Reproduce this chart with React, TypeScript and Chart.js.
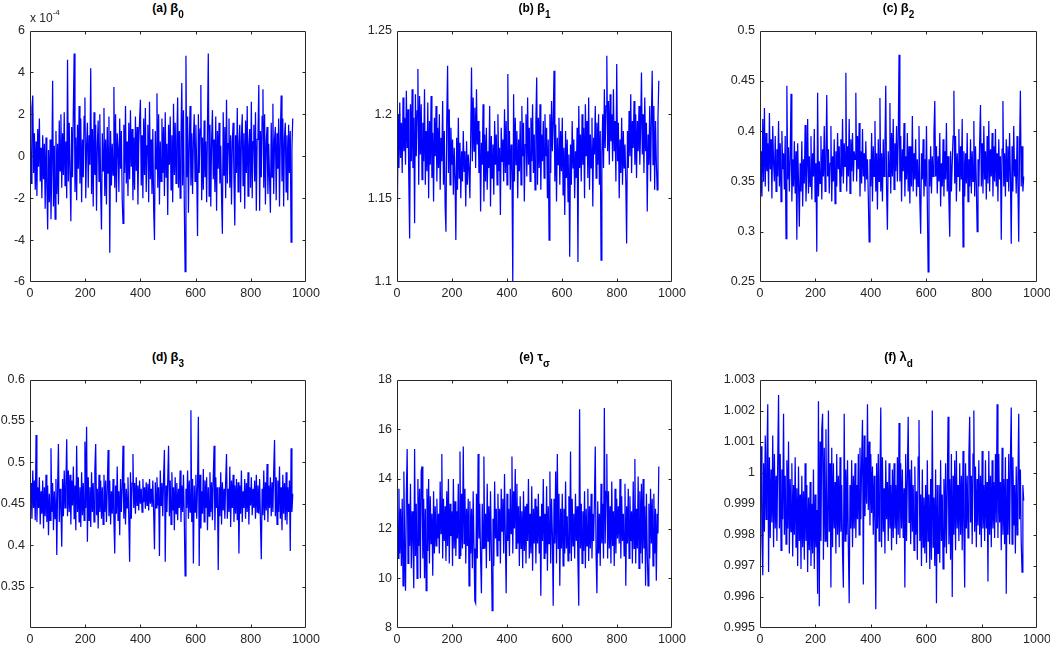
import React, { useEffect, useRef } from 'react';
import { Chart, registerables } from 'chart.js';

Chart.register(...registerables);

// Iteration spacing of the plotted (thinned) MCMC draws
const THIN = 3;
const X_TICKS = { min: 0, max: 1000, step: 200 };

// (a) beta_0, in units of 1e-4
const beta0 = [
  1.5, -1.3, 2.3, 2.9, -0.8, 1.1, -1.6, 0.7, -1.9, 1.3,
  -0.5, 1.8, -1.2, 0.4, -2.0, 1.0, -1.1, 0.6, -2.5, 0.9,
  -1.4, -3.5, 0.3, -2.2, 0.8, -3.0, -0.6, 3.6, -2.4, 0.5,
  -3.0, 1.2, -1.8, 0.6, -2.3, 1.7, -0.7, 2.0, -1.5, 1.1,
  -0.9, 2.1, -1.4, 0.7, -2.0, 4.6, -1.2, 1.6, -0.8, -3.1,
  1.4, -1.0, 2.2, 4.9, -1.7, 0.9, -2.1, 1.5, -0.6, 2.4,
  -1.3, 1.8, -2.2, 0.8, -1.0, 1.9, 2.8, -2.0, 0.5, 1.6,
  -1.5, 1.0, -0.4, 4.2, -1.8, 1.3, -2.4, 2.1, -0.9, 1.5,
  -2.6, 0.6, 1.7, -1.2, 2.0, -1.6, -3.5, 1.1, -0.7, 2.3,
  -1.9, 0.8, -2.3, 1.4, -0.8, 1.9, -4.6, 1.2, -1.4, 0.6,
  -0.9, 3.3, -1.5, 2.0, -2.2, 1.1, 0.4, -1.7, 1.8, -0.6,
  1.2, -2.0, -3.2, 1.5, -0.8, 2.4, -1.3, 0.7, -1.9, 1.6,
  -1.1, 2.2, -0.5, 1.3, -2.1, 0.9, -1.6, 1.9, -0.7, 1.4,
  -2.3, 0.6, 1.7, 2.7, -1.4, 1.0, -2.0, 1.8, -0.9, 2.3,
  -1.7, 0.5, 1.5, -2.2, 2.6, -1.1, 0.8, -1.8, 1.3, -2.5,
  -4.0, 1.2, -0.6, 3.0, -1.5, 2.0, -2.3, 0.7, -1.2, 1.8,
  -0.8, 1.4, -1.9, 2.1, -1.0, 0.6, -2.8, 1.5, -0.4, 1.9,
  -1.6, 1.0, -2.2, 2.5, -0.9, 1.6, -1.3, 0.8, 2.8, -1.5,
  1.2, -2.0, 0.9, 3.5, -1.4, 2.2, -2.2, -5.5, 4.8, -1.0,
  1.9, -2.7, 0.6, 2.4, -1.4, 1.1, -1.8, 0.8, 2.0, -1.2,
  1.5, -0.7, -3.8, 2.0, -0.8, 1.3, 3.4, -2.1, 0.9, -1.6,
  1.7, -1.0, 0.7, -2.2, 1.4, 4.9, -1.9, 1.5, -2.4, 0.8,
  2.2, -1.1, 0.8, -1.7, 1.9, -2.6, 1.2, -0.6, 1.6, -1.3,
  0.5, -2.0, -3.7, 2.1, -0.9, 1.4, -2.0, 2.7, -1.3, 0.6,
  1.8, -1.5, 1.0, -2.3, 0.7, 1.6, -1.1, -3.3, 1.0, -0.8,
  2.3, -1.7, 0.6, 1.5, -2.2, 0.9, 2.0, -1.4, 1.1, -2.5,
  1.7, -0.8, 2.4, -1.9, 0.5, 1.3, -1.5, 2.6, -2.0, 0.7,
  1.5, -1.2, 2.1, -2.6, 0.8, 1.0, 3.4, -2.6, 1.2, -1.0,
  1.9, 3.2, -1.5, 2.0, -2.3, 0.7, 1.4, -1.8, 0.6, -1.1,
  -2.7, 1.6, -1.0, 2.5, -1.8, 0.8, 1.4, -2.1, 1.1, -0.6,
  1.8, -2.4, 0.9, 2.9, -1.2, 1.8, -2.4, 0.9, 1.6, -1.7,
  1.0, -2.1, 1.5, -0.8, 1.2, -4.1, 0.4, 1.8,
];

// (b) beta_1
const beta1 = [
  1.132, 1.200, 1.168, 1.207, 1.174, 1.195, 1.165, 1.210, 1.178, 1.198,
  1.170, 1.214, 1.180, 1.203, 1.160, 1.126, 1.206, 1.172, 1.215, 1.168,
  1.198, 1.135, 1.212, 1.175, 1.202, 1.227, 1.158, 1.211, 1.176, 1.206,
  1.161, 1.195, 1.172, 1.215, 1.158, 1.190, 1.166, 1.207, 1.150, 1.196,
  1.170, 1.211, 1.162, 1.189, 1.148, 1.198, 1.175, 1.205, 1.160, 1.192,
  1.168, 1.200, 1.155, 1.186, 1.172, 1.208, 1.158, 1.190, 1.145, 1.130,
  1.198, 1.229, 1.165, 1.203, 1.158, 1.192, 1.170, 1.185, 1.152, 1.180,
  1.163, 1.125, 1.186, 1.155, 1.198, 1.162, 1.183, 1.150, 1.178, 1.160,
  1.190, 1.166, 1.178, 1.145, 1.184, 1.158, 1.176, 1.168, 1.150, 1.186,
  1.228, 1.172, 1.210, 1.178, 1.204, 1.168, 1.215, 1.182, 1.196, 1.165,
  1.190, 1.142, 1.183, 1.170, 1.206, 1.148, 1.188, 1.160, 1.192, 1.155,
  1.178, 1.168, 1.205, 1.145, 1.187, 1.162, 1.182, 1.152, 1.196, 1.170,
  1.188, 1.158, 1.200, 1.166, 1.180, 1.140, 1.192, 1.172, 1.185, 1.160,
  1.203, 1.165, 1.196, 1.158, 1.224, 1.170, 1.190, 1.155, 1.182, 1.168,
  1.100, 1.212, 1.160, 1.198, 1.170, 1.190, 1.150, 1.185, 1.166, 1.196,
  1.158, 1.205, 1.175, 1.195, 1.148, 1.182, 1.200, 1.163, 1.210, 1.170,
  1.192, 1.160, 1.198, 1.172, 1.206, 1.165, 1.188, 1.155, 1.196, 1.222,
  1.158, 1.198, 1.168, 1.206, 1.155, 1.188, 1.172, 1.196, 1.162, 1.200,
  1.175, 1.192, 1.150, 1.185, 1.125, 1.200, 1.165, 1.208, 1.178, 1.196,
  1.226, 1.160, 1.194, 1.148, 1.186, 1.170, 1.198, 1.158, 1.190, 1.166,
  1.198, 1.152, 1.180, 1.140, 1.190, 1.162, 1.185, 1.148, 1.176, 1.115,
  1.182, 1.158, 1.196, 1.168, 1.185, 1.150, 1.178, 1.162, 1.192, 1.112,
  1.205, 1.168, 1.188, 1.160, 1.200, 1.170, 1.192, 1.150, 1.206, 1.175,
  1.196, 1.162, 1.210, 1.155, 1.188, 1.168, 1.198, 1.145, 1.186, 1.176,
  1.205, 1.162, 1.195, 1.170, 1.200, 1.158, 1.190, 1.113, 1.176, 1.200,
  1.168, 1.215, 1.180, 1.205, 1.235, 1.178, 1.208, 1.170, 1.212, 1.184,
  1.200, 1.172, 1.215, 1.178, 1.196, 1.160, 1.230, 1.172, 1.195, 1.150,
  1.185, 1.165, 1.198, 1.158, 1.190, 1.168, 1.182, 1.160, 1.123, 1.190,
  1.168, 1.202, 1.175, 1.212, 1.165, 1.196, 1.180, 1.208, 1.170, 1.200,
  1.162, 1.196, 1.178, 1.205, 1.170, 1.192, 1.225, 1.176, 1.200, 1.165,
  1.210, 1.178, 1.195, 1.142, 1.188, 1.170, 1.205, 1.160, 1.198, 1.226,
  1.170, 1.205, 1.155, 1.196, 1.172, 1.155, 1.198, 1.220,
];

// (c) beta_2
const beta2 = [
  0.320, 0.380, 0.335, 0.412, 0.350, 0.423, 0.345, 0.398, 0.360, 0.388,
  0.340, 0.418, 0.362, 0.392, 0.333, 0.405, 0.368, 0.350, 0.395, 0.340,
  0.382, 0.355, 0.410, 0.345, 0.388, 0.330, 0.400, 0.362, 0.378, 0.342,
  0.395, 0.293, 0.445, 0.352, 0.384, 0.340, 0.372, 0.437, 0.330, 0.372,
  0.345, 0.390, 0.338, 0.380, 0.292, 0.388, 0.350, 0.305, 0.368, 0.340,
  0.390, 0.325, 0.372, 0.348, 0.406, 0.330, 0.362, 0.412, 0.338, 0.375,
  0.345, 0.395, 0.332, 0.378, 0.355, 0.402, 0.330, 0.368, 0.280, 0.438,
  0.335, 0.370, 0.348, 0.395, 0.332, 0.382, 0.355, 0.405, 0.340, 0.372,
  0.436, 0.355, 0.382, 0.338, 0.368, 0.405, 0.330, 0.375, 0.350, 0.392,
  0.328, 0.380, 0.345, 0.398, 0.362, 0.385, 0.340, 0.392, 0.355, 0.412,
  0.348, 0.388, 0.365, 0.458, 0.340, 0.385, 0.355, 0.412, 0.338, 0.392,
  0.360, 0.398, 0.350, 0.380, 0.372, 0.438, 0.350, 0.395, 0.362, 0.408,
  0.335, 0.380, 0.348, 0.402, 0.355, 0.378, 0.340, 0.390, 0.352, 0.372,
  0.335, 0.290, 0.372, 0.345, 0.398, 0.330, 0.385, 0.355, 0.410, 0.340,
  0.378, 0.322, 0.392, 0.350, 0.433, 0.340, 0.378, 0.330, 0.392, 0.355,
  0.385, 0.445, 0.342, 0.302, 0.380, 0.355, 0.428, 0.338, 0.398, 0.355,
  0.412, 0.342, 0.388, 0.360, 0.405, 0.350, 0.392, 0.476, 0.350, 0.395,
  0.330, 0.382, 0.360, 0.408, 0.335, 0.375, 0.352, 0.398, 0.340, 0.385,
  0.328, 0.385, 0.345, 0.415, 0.340, 0.378, 0.352, 0.392, 0.335, 0.372,
  0.345, 0.405, 0.330, 0.298, 0.378, 0.352, 0.392, 0.335, 0.372, 0.345,
  0.405, 0.330, 0.260, 0.372, 0.345, 0.385, 0.338, 0.375, 0.355, 0.398,
  0.430, 0.355, 0.385, 0.338, 0.375, 0.350, 0.398, 0.325, 0.368, 0.345,
  0.392, 0.335, 0.380, 0.352, 0.408, 0.340, 0.375, 0.330, 0.295, 0.380,
  0.340, 0.368, 0.395, 0.440, 0.348, 0.395, 0.330, 0.378, 0.355, 0.402,
  0.340, 0.385, 0.352, 0.412, 0.285, 0.380, 0.335, 0.378, 0.348, 0.398,
  0.330, 0.372, 0.345, 0.392, 0.338, 0.380, 0.350, 0.410, 0.335, 0.385,
  0.348, 0.300, 0.372, 0.345, 0.390, 0.426, 0.345, 0.388, 0.338, 0.405,
  0.352, 0.380, 0.332, 0.395, 0.348, 0.410, 0.340, 0.382, 0.355, 0.398,
  0.335, 0.385, 0.350, 0.402, 0.345, 0.378, 0.330, 0.392, 0.352, 0.375,
  0.292, 0.382, 0.430, 0.345, 0.378, 0.335, 0.392, 0.350, 0.385, 0.340,
  0.398, 0.355, 0.288, 0.385, 0.340, 0.405, 0.355, 0.372, 0.338, 0.395,
  0.348, 0.290, 0.382, 0.440, 0.345, 0.385, 0.340, 0.355,
];

// (d) beta_3
const beta3 = [
  0.440, 0.475, 0.432, 0.490, 0.445, 0.478, 0.430, 0.533, 0.428, 0.470,
  0.445, 0.482, 0.425, 0.465, 0.438, 0.478, 0.420, 0.470, 0.435, 0.485,
  0.428, 0.472, 0.412, 0.462, 0.430, 0.517, 0.440, 0.475, 0.418, 0.465,
  0.432, 0.480, 0.388, 0.470, 0.522, 0.428, 0.468, 0.445, 0.398, 0.480,
  0.435, 0.490, 0.445, 0.472, 0.528, 0.435, 0.490, 0.440, 0.485, 0.425,
  0.478, 0.448, 0.495, 0.432, 0.472, 0.418, 0.520, 0.440, 0.482, 0.428,
  0.470, 0.422, 0.488, 0.436, 0.475, 0.430, 0.525, 0.445, 0.543, 0.404,
  0.482, 0.430, 0.470, 0.422, 0.488, 0.440, 0.475, 0.428, 0.492, 0.522,
  0.436, 0.468, 0.420, 0.485, 0.440, 0.478, 0.432, 0.470, 0.425, 0.485,
  0.440, 0.478, 0.428, 0.468, 0.515, 0.435, 0.478, 0.425, 0.465, 0.438,
  0.480, 0.430, 0.390, 0.472, 0.438, 0.495, 0.430, 0.465, 0.412, 0.480,
  0.440, 0.470, 0.520, 0.432, 0.475, 0.425, 0.468, 0.445, 0.482, 0.430,
  0.380, 0.488, 0.432, 0.475, 0.510, 0.445, 0.475, 0.438, 0.482, 0.448,
  0.472, 0.442, 0.478, 0.450, 0.468, 0.440, 0.480, 0.452, 0.470, 0.444,
  0.476, 0.448, 0.474, 0.442, 0.480, 0.450, 0.468, 0.446, 0.478, 0.440,
  0.395, 0.476, 0.445, 0.482, 0.448, 0.470, 0.387, 0.490, 0.448, 0.475,
  0.435, 0.482, 0.515, 0.380, 0.472, 0.440, 0.478, 0.520, 0.435, 0.478,
  0.425, 0.488, 0.442, 0.470, 0.418, 0.482, 0.438, 0.475, 0.430, 0.468,
  0.445, 0.490, 0.428, 0.472, 0.440, 0.485, 0.432, 0.363, 0.468, 0.445,
  0.490, 0.432, 0.478, 0.440, 0.563, 0.428, 0.480, 0.378, 0.472, 0.440,
  0.485, 0.432, 0.472, 0.555, 0.375, 0.485, 0.420, 0.465, 0.438, 0.492,
  0.428, 0.478, 0.445, 0.482, 0.418, 0.470, 0.435, 0.488, 0.440, 0.476,
  0.430, 0.482, 0.520, 0.418, 0.482, 0.445, 0.470, 0.370, 0.470, 0.435,
  0.488, 0.425, 0.476, 0.442, 0.468, 0.432, 0.478, 0.510, 0.432, 0.468,
  0.440, 0.495, 0.422, 0.478, 0.445, 0.485, 0.428, 0.472, 0.438, 0.480,
  0.430, 0.476, 0.390, 0.472, 0.438, 0.490, 0.428, 0.465, 0.445, 0.480,
  0.432, 0.475, 0.440, 0.488, 0.425, 0.470, 0.448, 0.482, 0.436, 0.468,
  0.445, 0.478, 0.432, 0.485, 0.440, 0.472, 0.438, 0.480, 0.428, 0.383,
  0.468, 0.436, 0.490, 0.430, 0.476, 0.442, 0.498, 0.428, 0.472, 0.445,
  0.482, 0.435, 0.476, 0.440, 0.490, 0.527, 0.435, 0.482, 0.425, 0.478,
  0.440, 0.495, 0.432, 0.470, 0.418, 0.485, 0.438, 0.475, 0.430, 0.488,
  0.425, 0.470, 0.440, 0.478, 0.393, 0.517, 0.440, 0.462,
];

// (e) tau_sigma
const tauSigma = [
  13.3, 10.8, 13.6, 11.0, 12.8, 10.5, 13.2, 9.7, 14.3, 11.2,
  9.5, 13.4, 15.2, 10.6, 13.0, 11.3, 13.8, 10.4, 12.7, 11.5,
  9.6, 15.2, 10.9, 13.0, 10.0, 14.0, 11.3, 13.6, 10.0, 14.3,
  14.5, 10.8, 13.2, 10.0, 12.8, 9.5, 13.6, 11.1, 14.0, 10.6,
  13.3, 11.4, 12.6, 10.1, 13.5, 11.0, 12.9, 11.3, 13.2, 11.6,
  12.6, 11.0, 13.9, 11.8, 15.0, 10.8, 13.2, 11.5, 12.9, 10.7,
  13.5, 11.3, 14.0, 10.6, 13.0, 11.7, 12.7, 10.5, 14.0, 11.2,
  13.1, 10.9, 12.7, 11.6, 13.8, 10.8, 15.1, 10.9, 13.4, 11.2,
  15.3, 11.4, 13.6, 10.6, 12.8, 11.3, 13.2, 9.7, 13.1, 11.0,
  12.8, 10.4, 13.5, 11.2, 9.1, 9.0, 13.4, 10.8, 15.0, 11.6,
  13.0, 10.8, 9.4, 13.0, 11.2, 14.9, 11.2, 12.6, 10.4, 13.8,
  11.5, 12.9, 10.7, 13.5, 11.3, 8.7, 12.4, 10.5, 13.9, 11.6,
  12.8, 10.9, 13.4, 11.5, 12.8, 10.6, 13.6, 11.9, 13.2, 11.0,
  14.2, 11.7, 9.4, 13.4, 11.5, 12.8, 10.9, 13.6, 11.8, 14.9,
  11.0, 13.5, 12.0, 14.4, 11.2, 13.8, 11.4, 12.9, 10.5, 13.3,
  11.2, 12.7, 10.4, 13.5, 11.1, 12.9, 10.6, 13.0, 11.5, 14.0,
  10.8, 12.6, 11.0, 13.7, 10.3, 12.8, 11.4, 13.2, 10.6, 12.9,
  11.4, 13.4, 11.0, 12.5, 9.3, 13.0, 11.5, 14.0, 10.8, 12.6,
  11.0, 13.7, 10.3, 12.9, 11.4, 14.3, 10.6, 13.2, 11.8, 8.9,
  13.2, 11.4, 14.3, 10.6, 15.0, 11.2, 13.4, 9.7, 12.8, 11.2,
  13.4, 10.5, 12.8, 11.0, 13.9, 11.2, 12.5, 10.7, 13.3, 11.0,
  15.1, 10.7, 13.2, 11.3, 12.6, 10.8, 13.4, 11.5, 12.9, 10.6,
  8.9, 16.8, 11.2, 13.0, 10.6, 12.7, 11.1, 13.5, 10.4, 12.8,
  11.3, 13.6, 10.7, 12.9, 11.2, 13.4, 10.8, 12.6, 11.5, 13.2,
  15.3, 10.9, 9.4, 13.1, 11.0, 12.6, 10.5, 13.8, 11.4, 13.0,
  10.8, 16.85, 11.4, 13.5, 15.0, 10.8, 13.5, 11.2, 12.9, 10.6,
  13.9, 11.3, 12.7, 10.5, 13.6, 11.0, 13.2, 11.6, 12.9, 11.4,
  14.0, 10.8, 13.3, 11.5, 12.6, 10.9, 13.8, 9.7, 12.9, 11.4,
  13.6, 10.8, 13.3, 11.5, 12.7, 10.6, 13.9, 11.2, 14.8, 10.6,
  12.8, 11.2, 14.1, 10.4, 13.5, 11.0, 13.8, 10.6, 14.0, 11.2,
  12.9, 9.7, 13.4, 11.0, 9.7, 13.0, 10.8, 13.6, 11.4, 13.2,
  10.5, 13.4, 11.0, 12.8, 9.9, 12.6, 11.8, 14.5,
];

// (f) lambda_d
const lambdaD = [
  0.99880, 1.00085, 0.99790, 0.99670, 1.00030, 0.99810, 1.00120, 0.99850, 1.00050, 1.00220,
  0.99680, 1.00050, 0.99790, 1.00010, 0.99840, 1.00120, 0.99760, 1.00060, 0.99820, 0.99990,
  0.99780, 1.00040, 1.00250, 0.99820, 1.00060, 0.99750, 1.00010, 0.99850, 1.00190, 0.99800,
  0.99990, 0.99770, 1.00040, 0.99820, 1.00100, 0.99740, 0.99980, 0.99810, 1.00030, 0.99730,
  0.99960, 0.99800, 1.00050, 0.99760, 0.99950, 0.99700, 1.00020, 0.99780, 0.99930, 0.99690,
  0.99990, 0.99760, 0.99940, 0.99720, 1.00030, 0.99780, 0.99960, 0.99680, 0.99920, 0.99750,
  0.99970, 0.99700, 0.99900, 0.99740, 1.00010, 0.99690, 0.99930, 0.99760, 0.99880, 0.99610,
  1.00230, 0.99570, 1.00100, 0.99780, 1.00140, 1.00190, 0.99720, 1.00080, 0.99780, 1.00140,
  0.99820, 0.99760, 1.00200, 0.99810, 1.00030, 0.99630, 1.00080, 0.99760, 1.00030, 0.99820,
  0.99970, 0.99740, 1.00060, 0.99800, 0.99990, 0.99760, 1.00050, 0.99810, 0.99960, 0.99740,
  0.99630, 1.00190, 0.99780, 1.00010, 0.99800, 1.00040, 0.99760, 0.99580, 0.99960, 0.99820,
  1.00040, 0.99760, 0.99990, 0.99820, 1.00030, 0.99790, 0.99960, 0.99850, 1.00060, 0.99800,
  1.00080, 0.99850, 1.00040, 1.00170, 0.99640, 1.00120, 0.99860, 1.00050, 0.99900, 1.00220,
  0.99880, 1.00100, 0.99830, 1.00060, 0.99870, 1.00020, 0.99800, 0.99990, 0.99840, 0.99560,
  1.00030, 0.99820, 1.00060, 0.99780, 0.99980, 1.00210, 0.99760, 1.00050, 0.99810, 0.99950,
  0.99740, 1.00040, 0.99850, 0.99970, 0.99780, 1.00030, 0.99820, 0.99960, 0.99750, 1.00010,
  0.99790, 1.00030, 0.99820, 0.99960, 0.99770, 1.00050, 0.99800, 1.00160, 0.99790, 1.00030,
  0.99820, 1.00010, 0.99790, 0.99950, 0.99630, 1.00060, 0.99780, 0.99990, 1.00180, 0.99840,
  1.00010, 0.99770, 1.00040, 0.99810, 0.99960, 0.99750, 1.00020, 0.99800, 0.99940, 0.99720,
  1.00050, 1.00170, 0.99780, 0.99930, 0.99700, 1.00010, 0.99760, 0.99920, 0.99740, 0.99960,
  0.99710, 1.00040, 0.99780, 0.99930, 0.99690, 0.99980, 0.99720, 1.00200, 0.99760, 0.99920,
  0.99700, 1.00010, 0.99580, 0.99960, 0.99740, 0.99960, 0.99710, 1.00040, 0.99780, 0.99930,
  0.99690, 0.99980, 0.99760, 1.00030, 0.99740, 0.99950, 1.00180, 0.99770, 0.99980, 0.99720,
  1.00060, 0.99600, 0.99990, 0.99800, 1.00040, 0.99750, 1.00070, 0.99820, 0.99960, 0.99780,
  1.00030, 0.99800, 0.99990, 0.99750, 1.00070, 0.99820, 0.99630, 1.00030, 0.99820, 0.99990,
  0.99790, 1.00050, 1.00180, 0.99840, 0.99990, 0.99770, 1.00060, 1.00200, 0.99810, 1.00020,
  0.99760, 0.99980, 0.99830, 1.00040, 0.99800, 0.99990, 0.99760, 1.00070, 0.99820, 0.99960,
  0.99780, 1.00040, 0.99820, 0.99970, 0.99650, 1.00070, 0.99800, 0.99990, 0.99760, 1.00040,
  0.99820, 0.99970, 0.99790, 1.00060, 0.99840, 1.00220, 0.99790, 1.00060, 0.99840, 0.99970,
  0.99750, 1.00080, 0.99800, 0.99980, 0.99770, 1.00050, 0.99610, 0.99980, 0.99800, 1.00060,
  0.99770, 1.00040, 1.00210, 0.99770, 1.00050, 0.99830, 0.99960, 0.99740, 1.00020, 0.99800,
  0.99960, 1.00190, 0.99850, 1.00010, 0.99780, 0.99680, 0.99960, 0.99910,
];

// Titles: [label, greek symbol, subscript]
const titles: [string, string, string][] = [
  ['(a) ', 'β', '0'],
  ['(b) ', 'β', '1'],
  ['(c) ', 'β', '2'],
  ['(d) ', 'β', '3'],
  ['(e) ', 'τ', 'σ'],
  ['(f) ', 'λ', 'd'],
];

// y-axis ranges: [min, max, step]
const yRanges: [number, number, number][] = [
  [-6, 6, 2],
  [1.1, 1.25, 0.05],
  [0.25, 0.5, 0.05],
  [0.3, 0.6, 0.05],
  [8, 18, 2],
  [0.995, 1.003, 0.001],
];
const hiddenYLabels: (number | null)[] = [null, null, null, 0.3, null, null];

const series = [beta0, beta1, beta2, beta3, tauSigma, lambdaD];

// ---- layout (pixels) ----
const COLS = [
  { left: 30, width: 276 },
  { left: 397, width: 275 },
  { left: 760, width: 277 },
];
const ROWS = [
  { top: 30, height: 252 },
  { top: 379, height: 249 },
];
const AXIS_W = 60;
const AXIS_H = 26;
const PAD_T = 12;
const PAD_R = 22;

const FONT = 'Arial, "Liberation Sans", Helvetica, sans-serif';
const TEXT_COLOR = '#262626';
const BOX_COLOR = '#262626';
const LINE_COLOR = '#0000ff';

const fmt = (v: number) => String(Number(v.toFixed(4)));

const boxPlugin = {
  id: 'matlabBox',
  afterDatasetsDraw(chart: any) {
    const { ctx, chartArea: a, scales } = chart;
    const xs = scales.x;
    const ys = scales.y;
    const L = Math.round(a.left) + 0.5;
    const R = Math.round(a.right) - 0.5;
    const T = Math.round(a.top) + 0.5;
    const B = Math.round(a.bottom) - 0.5;
    const tl = 3;
    ctx.save();
    ctx.strokeStyle = BOX_COLOR;
    ctx.lineWidth = 1;
    ctx.beginPath();
    ctx.rect(L, T, R - L, B - T);
    xs.ticks.forEach((t: any) => {
      const px = Math.round(xs.getPixelForValue(t.value)) + 0.5;
      if (px <= L + 1 || px >= R - 1) return;
      ctx.moveTo(px, B);
      ctx.lineTo(px, B - tl);
      ctx.moveTo(px, T);
      ctx.lineTo(px, T + tl);
    });
    ys.ticks.forEach((t: any) => {
      const py = Math.round(ys.getPixelForValue(t.value)) + 0.5;
      if (py <= T + 1 || py >= B - 1) return;
      ctx.moveTo(L, py);
      ctx.lineTo(L + tl, py);
      ctx.moveTo(R, py);
      ctx.lineTo(R - tl, py);
    });
    ctx.stroke();
    ctx.restore();
  },
};

function Panel({ idx }: { idx: number }) {
  const ref = useRef<HTMLCanvasElement>(null);
  const col = COLS[idx % 3];
  const row = ROWS[Math.floor(idx / 3)];
  const cw = AXIS_W + col.width + PAD_R;
  const chh = PAD_T + row.height + AXIS_H;

  useEffect(() => {
    const [ymin, ymax, ystep] = yRanges[idx];
    const hidden = hiddenYLabels[idx];
    const pts = series[idx].map((v, i) => ({ x: 1 + i * THIN, y: v }));
    const chart = new Chart(ref.current as HTMLCanvasElement, {
      type: 'line',
      data: {
        datasets: [
          {
            data: pts,
            borderColor: LINE_COLOR,
            borderWidth: 1.25,
            pointRadius: 0,
            tension: 0,
            fill: false,
          },
        ],
      },
      options: {
        animation: false,
        responsive: false,
        events: [],
        layout: { padding: { left: 0, right: PAD_R, top: PAD_T, bottom: 0 } },
        plugins: {
          legend: { display: false },
          tooltip: { enabled: false },
          title: { display: false },
        },
        scales: {
          x: {
            type: 'linear',
            min: X_TICKS.min,
            max: X_TICKS.max,
            grid: { display: false, drawTicks: false },
            border: { display: false },
            ticks: {
              stepSize: X_TICKS.step,
              autoSkip: false,
              maxRotation: 0,
              padding: 4,
              color: TEXT_COLOR,
              font: { family: FONT, size: 12.5 },
              callback: (v: any) => fmt(Number(v)),
            },
            afterFit: (s: any) => {
              s.height = AXIS_H;
            },
          },
          y: {
            type: 'linear',
            min: ymin,
            max: ymax,
            grid: { display: false, drawTicks: false },
            border: { display: false },
            ticks: {
              stepSize: ystep,
              autoSkip: false,
              padding: 5,
              color: TEXT_COLOR,
              font: { family: FONT, size: 12.5 },
              callback: (v: any) => {
                const n = Number(v);
                if (hidden !== null && Math.abs(n - hidden) < 1e-9) return '';
                return fmt(n);
              },
            },
            afterFit: (s: any) => {
              s.width = AXIS_W;
            },
          },
        },
      },
      plugins: [boxPlugin],
    } as any);
    return () => chart.destroy();
  }, [idx]);

  const [label, sym, sub] = titles[idx];
  const titleTop = row.top - 29;

  return (
    <>
      <canvas
        ref={ref}
        width={cw}
        height={chh}
        style={{
          position: 'absolute',
          left: col.left - AXIS_W,
          top: row.top - PAD_T,
          width: cw,
          height: chh,
        }}
      />
      <div
        style={{
          position: 'absolute',
          left: col.left,
          width: col.width,
          top: titleTop,
          textAlign: 'center',
          fontFamily: FONT,
          fontWeight: 'bold',
          fontSize: 12,
          lineHeight: '14px',
          color: '#000',
          whiteSpace: 'nowrap',
        }}
      >
        {label}
        <span style={{ fontSize: 13 }}>{sym}</span>
        <span style={{ fontSize: 10, position: 'relative', top: 6 }}>{sub}</span>
      </div>
      {idx === 0 && (
        <div
          style={{
            position: 'absolute',
            left: col.left,
            top: row.top - 19,
            fontFamily: FONT,
            fontSize: 12,
            lineHeight: '14px',
            color: TEXT_COLOR,
            whiteSpace: 'nowrap',
          }}
        >
          x 10
          <span style={{ fontSize: 8, position: 'relative', top: -7 }}>-4</span>
        </div>
      )}
    </>
  );
}

export default function App() {
  return (
    <div
      style={{
        position: 'absolute',
        left: 0,
        top: 0,
        width: 1050,
        height: 646,
        background: '#ffffff',
        overflow: 'hidden',
      }}
    >
      {[0, 1, 2, 3, 4, 5].map((i) => (
        <Panel key={i} idx={i} />
      ))}
    </div>
  );
}
